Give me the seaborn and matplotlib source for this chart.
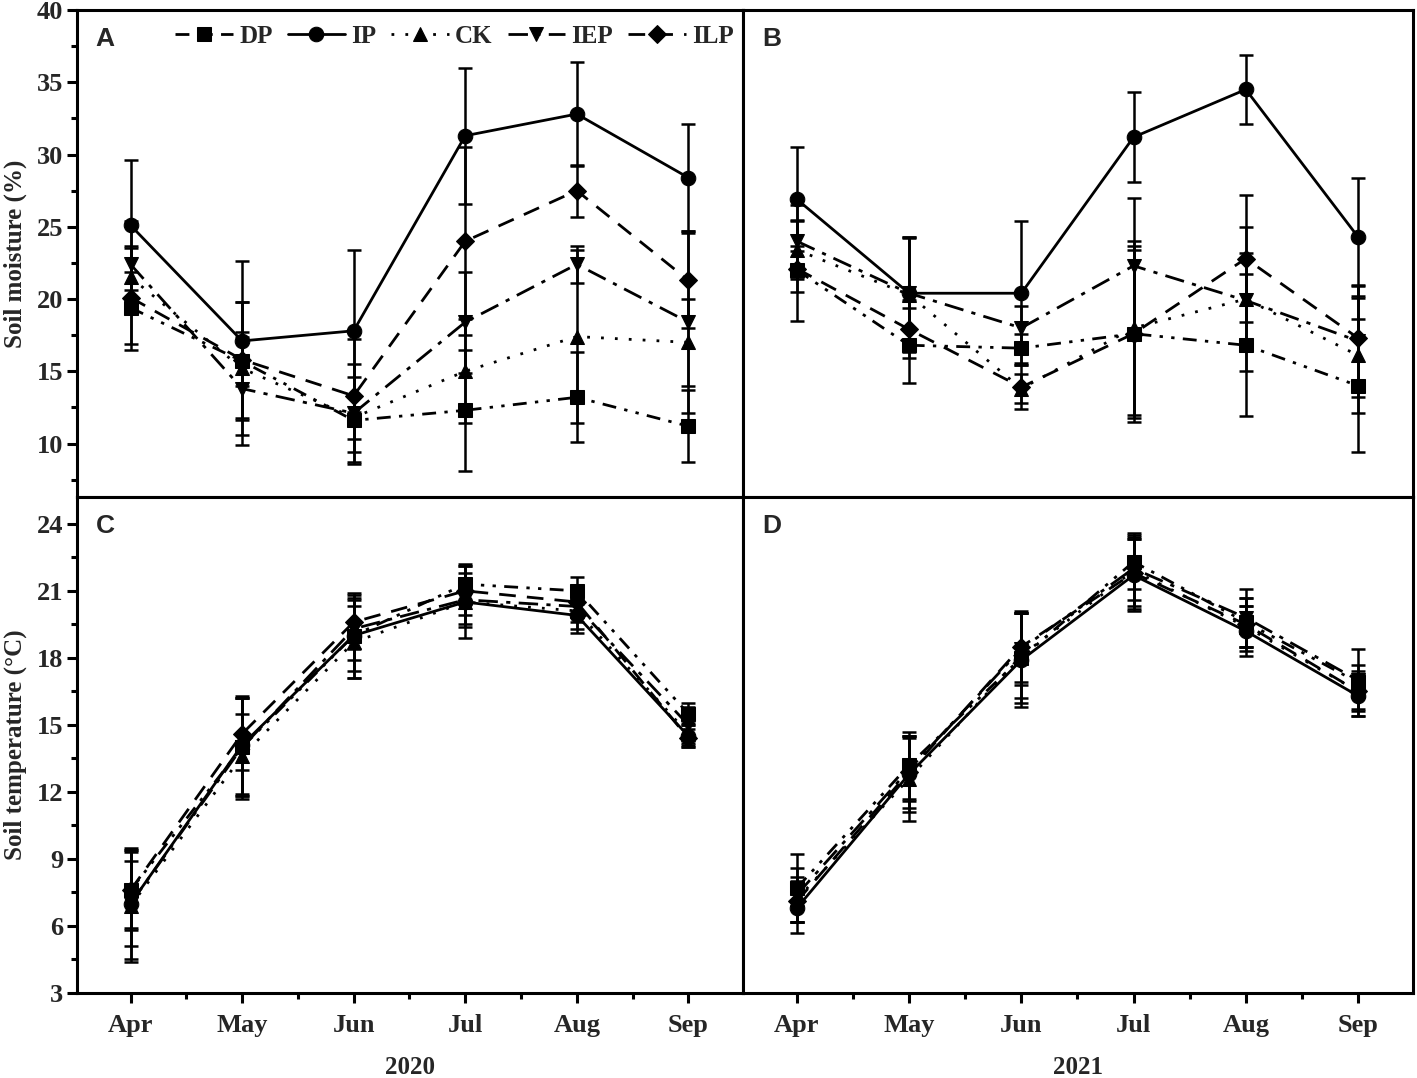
import numpy as np
import pandas as pd
import matplotlib
matplotlib.use("Agg")
import matplotlib.pyplot as plt
import seaborn as sns

sns.set_theme(style="ticks")
plt.rcParams['font.family'] = ['Liberation Serif', 'DejaVu Serif']
plt.rcParams['font.weight'] = 'bold'

months = ["Apr", "May", "Jun", "Jul", "Aug", "Sep"]
treatments = ["DP", "IP", "CK", "IEP", "ILP"]

# soil moisture 2020 (panel A)
moist_2020 = {
    "DP": [19.4, 15.7, 11.6, 12.3, 13.2, 11.2],
    "IP": [25.1, 17.1, 17.8, 31.3, 32.8, 28.4],
    "CK": [21.5, 15.2, 11.8, 15.0, 17.4, 17.0],
    "IEP": [22.4, 13.8, 12.1, 18.4, 22.4, 18.4],
    "ILP": [20.1, 15.8, 13.3, 24.0, 27.5, 21.3],
}
moist_2020_err = {
    "DP": [2.5, 1.7, 3.0, 4.2, 3.1, 2.5],
    "IP": [4.5, 5.5, 5.6, 4.7, 3.6, 3.7],
    "CK": [2.0, 4.6, 1.5, 3.6, 6.0, 3.0],
    "IEP": [3.0, 3.9, 3.4, 3.5, 1.3, 6.3],
    "ILP": [3.6, 4.0, 3.9, 6.5, 1.8, 3.3],
}
# soil moisture 2021 (panel B)
moist_2021 = {
    "DP": [22.0, 16.8, 16.6, 17.6, 16.8, 14.0],
    "IP": [26.9, 20.4, 20.4, 31.2, 34.5, 24.3],
    "CK": [23.4, 20.3, 13.8, 18.0, 20.0, 16.1],
    "IEP": [24.0, 20.4, 18.0, 22.3, 19.9, 17.1],
    "ILP": [22.1, 17.9, 13.9, 17.6, 22.8, 17.3],
}
moist_2021_err = {
    "DP": [3.5, 2.6, 1.0, 6.1, 4.9, 4.6],
    "IP": [3.6, 3.9, 5.0, 3.1, 2.4, 4.1],
    "CK": [2.0, 4.0, 1.0, 6.0, 5.0, 4.0],
    "IEP": [2.5, 3.8, 1.5, 4.7, 3.3, 3.9],
    "ILP": [1.6, 2.0, 1.5, 5.8, 4.4, 3.6],
}
# soil temperature 2020 (panel C)
temp_2020 = {
    "DP": [7.6, 14.0, 19.0, 21.3, 21.0, 15.5],
    "IP": [7.0, 14.1, 19.0, 20.5, 19.9, 14.5],
    "CK": [6.9, 13.6, 18.7, 20.5, 20.1, 14.6],
    "IEP": [7.0, 14.0, 19.3, 20.6, 20.3, 15.0],
    "ILP": [7.6, 14.6, 19.6, 21.0, 20.5, 14.4],
}
temp_2020_err = {
    "DP": [1.8, 2.2, 1.6, 0.9, 0.6, 0.5],
    "IP": [2.5, 2.2, 1.9, 1.6, 0.8, 0.5],
    "CK": [2.5, 1.9, 1.6, 1.0, 0.8, 0.5],
    "IEP": [1.9, 2.2, 1.4, 1.2, 0.7, 0.8],
    "ILP": [1.7, 1.6, 1.2, 1.1, 0.6, 0.4],
}
# soil temperature 2021 (panel D)
temp_2021 = {
    "DP": [7.7, 13.2, 18.0, 22.3, 19.6, 16.9],
    "IP": [6.8, 12.8, 17.9, 21.7, 19.2, 16.3],
    "CK": [7.2, 12.6, 18.1, 21.9, 19.4, 16.5],
    "IEP": [7.4, 13.0, 18.4, 22.0, 19.8, 17.0],
    "ILP": [7.1, 12.9, 18.5, 21.8, 19.5, 16.5],
}
temp_2021_err = {
    "DP": [1.5, 1.5, 2.0, 1.2, 1.1, 1.5],
    "IP": [1.1, 1.7, 2.1, 1.6, 1.1, 0.9],
    "CK": [1.0, 1.9, 1.9, 1.7, 0.9, 0.8],
    "IEP": [1.2, 1.4, 1.6, 1.4, 1.3, 0.7],
    "ILP": [0.9, 1.6, 1.6, 1.5, 1.2, 0.9],
}

styles = {
    "DP": dict(marker="s", ls=(0, (5, 3, 1.2, 3, 1.2, 3))),
    "IP": dict(marker="o", ls="-"),
    "CK": dict(marker="^", ls=(0, (1, 4))),
    "IEP": dict(marker="v", ls=(0, (7, 3, 1.5, 3))),
    "ILP": dict(marker="D", ls=(0, (6, 4))),
}

fs = 18

fig = plt.figure(figsize=(14.17, 10.78), dpi=100)
L, M, R = 77 / 1417, 743 / 1417, 1413 / 1417
T, H, B = 1 - 10 / 1078, 1 - 497 / 1078, 1 - 993 / 1078
axA = fig.add_axes([L, H, M - L, T - H])
axB = fig.add_axes([M, H, R - M, T - H])
axC = fig.add_axes([L, B, M - L, H - B])
axD = fig.add_axes([M, B, R - M, H - B])

x = np.arange(len(months))


def draw(ax, data, err):
    for t in treatments:
        ax.errorbar(x, data[t], yerr=err[t], fmt="none", ecolor="black",
                    elinewidth=1.8, capsize=5, capthick=1.8, zorder=2)
        df = pd.DataFrame({"month": x, "value": data[t]})
        sns.lineplot(data=df, x="month", y="value", ax=ax, color="black",
                     linestyle=styles[t]["ls"], marker=styles[t]["marker"],
                     markersize=10.5 if styles[t]["marker"] != "D" else 9,
                     markeredgecolor="black", linewidth=2, label=t, zorder=3,
                     legend=False)


draw(axA, moist_2020, moist_2020_err)
draw(axB, moist_2021, moist_2021_err)
draw(axC, temp_2020, temp_2020_err)
draw(axD, temp_2021, temp_2021_err)

for ax in (axA, axB, axC, axD):
    ax.set_xlim(-0.48, 5.49)
    ax.set_xticks(x)
    ax.set_xticks(x[:-1] + 0.5, minor=True)
    ax.set_xlabel("")
    ax.set_ylabel("")
    for s in ax.spines.values():
        s.set_linewidth(2.2)
        s.set_color("black")
    ax.tick_params(which="major", direction="out", length=7, width=2.2,
                   labelsize=fs + 1, color="black", pad=3)
    ax.tick_params(which="minor", direction="out", length=4, width=2.2,
                   color="black")

for ax in (axA, axB):
    ax.set_ylim(6.3, 40)
    ax.set_yticks([10, 15, 20, 25, 30, 35, 40])
    ax.set_yticks(np.arange(7.5, 40, 5), minor=True)
    ax.tick_params(axis="x", which="both", bottom=False, labelbottom=False)
for ax in (axC, axD):
    ax.set_ylim(3, 25.2)
    ax.set_yticks([3, 6, 9, 12, 15, 18, 21, 24])
    ax.set_yticks(np.arange(4.5, 25, 3), minor=True)
    ax.set_xticklabels(months)
    ax.tick_params(axis="x", pad=8)
for ax in (axB, axD):
    ax.tick_params(axis="y", which="both", left=False, labelleft=False)

axA.set_ylabel("Soil moisture (%)", fontsize=fs, fontweight="bold")
axC.set_ylabel("Soil temperature (\u00b0C)", fontsize=fs, fontweight="bold")
for ax in (axA, axC):
    ax.yaxis.set_label_coords(-0.092, 0.5)
    ax.yaxis.label.set_va("center")
axC.set_xlabel("2020", fontsize=fs, fontweight="bold", labelpad=14)
axD.set_xlabel("2021", fontsize=fs, fontweight="bold", labelpad=14)

for ax, letter in zip((axA, axB, axC, axD), "ABCD"):
    ax.text(0.028, 0.965, letter, transform=ax.transAxes, ha="left", va="top",
            fontsize=fs + 1, fontweight="bold", family=["Liberation Sans", "DejaVu Sans"])

handles, labels = axA.get_legend_handles_labels()
axA.legend(handles, labels, loc="upper left", bbox_to_anchor=(0.125, 1.0),
           ncol=5, frameon=False, fontsize=fs, handlelength=2.3,
           columnspacing=0.6, handletextpad=0.25, borderaxespad=0.2)

fig.savefig("out.png", dpi=100)
